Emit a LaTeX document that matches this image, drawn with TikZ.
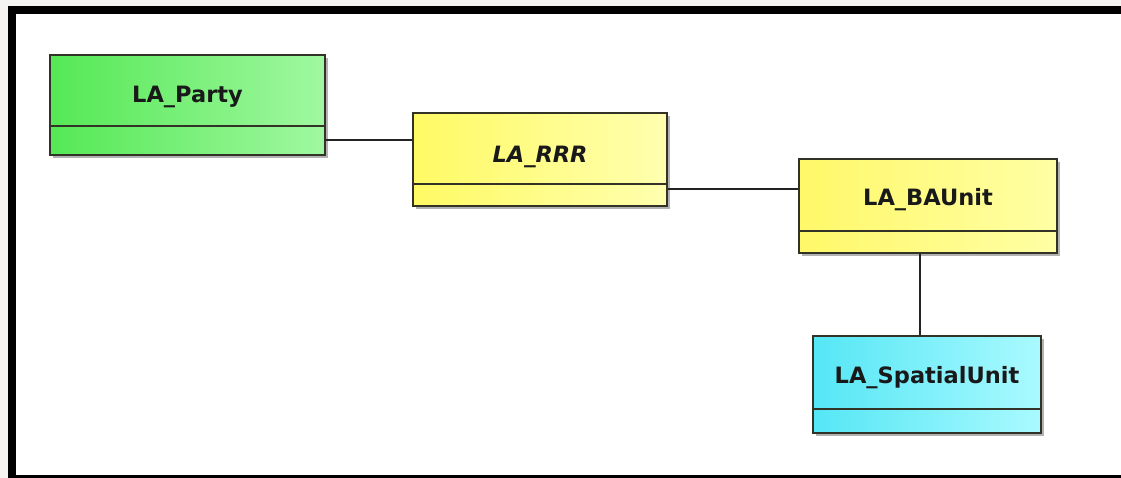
\documentclass[tikz,border=0pt]{standalone}
\usepackage{fontspec}
\setsansfont{DejaVu Sans}
\usepackage{tikz}
\usetikzlibrary{calc,shadows}
\definecolor{FrameBack}{RGB}{246,244,242}
\definecolor{BoxBorder}{RGB}{50,50,38}
\definecolor{LinkColor}{RGB}{35,35,35}
\definecolor{PartyLeft}{RGB}{85,232,85}
\definecolor{PartyRight}{RGB}{160,248,160}
\definecolor{RRRLeft}{RGB}{255,250,100}
\definecolor{RRRRight}{RGB}{255,255,175}
\definecolor{BAULeft}{RGB}{255,248,105}
\definecolor{BAURight}{RGB}{255,255,165}
\definecolor{SpatialLeft}{RGB}{85,230,245}
\definecolor{SpatialRight}{RGB}{170,250,255}
\tikzset{
  % UML class box
  classbox/.style={
    rectangle,
    draw=BoxBorder,
    line width=1.4pt,
    inner sep=0pt,
    anchor=north west,
    font=\sffamily\bfseries\fontsize{16}{19}\selectfont,
    text=black!90,
    drop shadow={shadow xshift=0.08cm, shadow yshift=-0.08cm, fill=black, opacity=0.3}
  },
  % Coloured fills
  partybox/.style={classbox, left color=PartyLeft, right color=PartyRight},
  rrrbox/.style={classbox, left color=RRRLeft, right color=RRRRight},
  baubox/.style={classbox, left color=BAULeft, right color=BAURight},
  spatialbox/.style={classbox, left color=SpatialLeft, right color=SpatialRight},
  % Compartment line
  divider/.style={draw=BoxBorder, line width=1.4pt},
  % Association
  assoc/.style={draw=LinkColor, line width=0.9pt}
}

\begin{document}
\begin{tikzpicture}[x=0.025cm, y=-0.025cm]
  \useasboundingbox (0,0) rectangle (1121,478);
  % Frame
  \fill[FrameBack] (0,0) rectangle (1121,478);
  \fill[black] (8,6) rectangle (1121,478);
  \fill[white] (16,14) rectangle (1121,475);

  % Classes
  \node[partybox, minimum width=6.875cm, text height=1.2cm, text depth=1.3cm]
    (party) at (49,54) {LA\_Party};
  \node[rrrbox, minimum width=6.35cm, text height=1.25cm, text depth=1.075cm]
    (rrr) at (412,112) {\itshape LA\_RRR};
  \node[baubox, minimum width=6.45cm, text height=1.175cm, text depth=1.175cm]
    (bau) at (798,158) {LA\_BAUnit};
  \node[spatialbox, minimum width=5.7cm, text height=1.2cm, text depth=1.225cm]
    (spatial) at (812,335) {LA\_SpatialUnit};

  % Compartments
  \draw[divider] ($(party.south west)+(0,-30)$) -- ($(party.south east)+(0,-30)$);
  \draw[divider] ($(rrr.south west)+(0,-23)$) -- ($(rrr.south east)+(0,-23)$);
  \draw[divider] ($(bau.south west)+(0,-23)$) -- ($(bau.south east)+(0,-23)$);
  \draw[divider] ($(spatial.south west)+(0,-25)$) -- ($(spatial.south east)+(0,-25)$);

  % Associations
  \coordinate (lnk1) at (0,140);
  \coordinate (lnk2) at (0,189);
  \coordinate (lnk3) at (920,0);
  \draw[assoc] (party.east |- lnk1) -- (rrr.west |- lnk1);
  \draw[assoc] (rrr.east |- lnk2) -- (bau.west |- lnk2);
  \draw[assoc] (bau.south -| lnk3) -- (spatial.north -| lnk3);
\end{tikzpicture}
\end{document}
